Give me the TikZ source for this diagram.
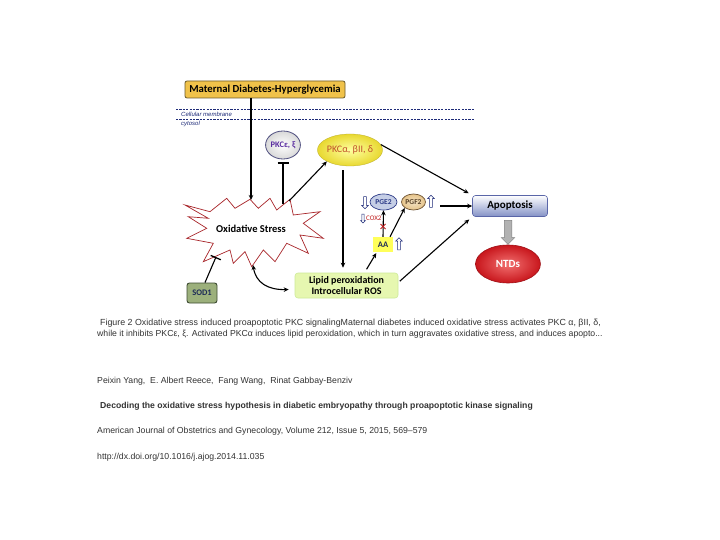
\documentclass[tikz,border=0pt]{standalone}
\usepackage{fontspec}
\setmainfont{Liberation Sans}
\newfontfamily\calfont{Carlito}
\usetikzlibrary{arrows.meta,shapes.geometric,shapes.arrows,shadings}
\definecolor{navy}{HTML}{1E2B78}
\definecolor{mdhfill}{HTML}{F0C24A}
\definecolor{mdhdraw}{HTML}{6B5A2A}
\definecolor{pkcetxt}{HTML}{5A2DA0}
\definecolor{pkcedraw}{HTML}{505080}
\definecolor{pkcatxt}{HTML}{C0502A}
\definecolor{pkcain}{HTML}{FFFFA0}
\definecolor{pkcaout}{HTML}{E8D830}
\definecolor{sodfill}{HTML}{9CB07C}
\definecolor{soddraw}{HTML}{3D4B32}
\definecolor{sodtxt}{HTML}{1E2B58}
\definecolor{lipidfill}{HTML}{E6F7B0}
\definecolor{lipiddraw}{HTML}{CDEB98}
\definecolor{aafill}{HTML}{FFFF5A}
\definecolor{pgefill}{HTML}{C5CEE6}
\definecolor{pgedraw}{HTML}{2E3C88}
\definecolor{pgffill}{HTML}{E6C48A}
\definecolor{pgfdraw}{HTML}{6E5232}
\definecolor{apopbot}{HTML}{8391C6}
\definecolor{apopdraw}{HTML}{5A66A8}
\definecolor{ntdin}{HTML}{F27070}
\definecolor{ntdout}{HTML}{C8161C}
\definecolor{ntddraw}{HTML}{A01218}
\definecolor{burstc}{HTML}{A8252A}
\definecolor{coxred}{HTML}{C02020}
\definecolor{captext}{HTML}{333333}
\begin{document}
\begin{tikzpicture}[x=1pt,y=-1pt,
  conn/.style={-{Stealth[length=5pt,width=4.5pt]}, line width=1.1pt, black},
  dconn/.style={{Stealth[length=5pt,width=4.5pt]}-{Stealth[length=5pt,width=4.5pt]}, line width=1.1pt, black},
  inh/.style={-{Bar[width=11pt,line width=1.3pt]}, line width=1.1pt, black},
  membrane/.style={navy, dashed, dash pattern=on 2.2pt off 1.2pt, line width=0.9pt},
  memtxt/.style={anchor=west, inner sep=0pt, text=navy, font=\fontsize{6}{7}\selectfont\itshape},
  mdh/.style={draw=mdhdraw, line width=0.8pt, fill=mdhfill, rounded corners=2pt, minimum width=160pt, minimum height=17pt, inner sep=0pt, font=\calfont\bfseries\fontsize{10.7}{12}\selectfont},
  pkce/.style={ellipse, draw=pkcedraw, line width=0.8pt, inner color=white, outer color=black!15, minimum width=32pt, minimum height=28pt, inner sep=0pt, text=pkcetxt, font=\calfont\bfseries\fontsize{8.5}{9}\selectfont},
  pkca/.style={ellipse, draw=pkcaout!80!black, line width=0.3pt, inner color=pkcain, outer color=pkcaout, minimum width=62pt, minimum height=32pt, inner sep=0pt, text=pkcatxt, font=\calfont\fontsize{10}{11}\selectfont},
  burst/.style={draw=burstc, line width=0.7pt, fill=white},
  ostxt/.style={inner sep=0pt, font=\calfont\bfseries\fontsize{10.5}{12}\selectfont},
  sod/.style={draw=soddraw, line width=0.9pt, fill=sodfill, rounded corners=2.5pt, minimum width=30pt, minimum height=20pt, inner sep=0pt, text=sodtxt, font=\calfont\bfseries\fontsize{8.5}{9}\selectfont},
  lipid/.style={draw=lipiddraw, line width=0.6pt, fill=lipidfill, rounded corners=3pt, minimum width=103pt, minimum height=25pt, inner sep=0pt, align=center, font=\calfont\bfseries\fontsize{10}{11}\selectfont},
  aabox/.style={fill=aafill, minimum width=20pt, minimum height=15pt, inner sep=0pt, text=sodtxt, font=\calfont\bfseries\fontsize{8.5}{9}\selectfont},
  pge/.style={ellipse, draw=pgedraw, line width=0.7pt, fill=pgefill, minimum width=27pt, minimum height=16pt, inner sep=0pt, text=pgedraw, font=\calfont\bfseries\fontsize{7.5}{8}\selectfont},
  pgf/.style={ellipse, draw=pgfdraw, line width=0.7pt, inner color=pgffill!50!white, outer color=pgffill, minimum width=24pt, minimum height=16pt, inner sep=0pt, text=pgfdraw!80!black, font=\calfont\bfseries\fontsize{7.5}{8}\selectfont},
  outarr/.style={single arrow, draw=navy, line width=0.5pt, fill=white, minimum height=12pt, inner sep=1.2pt, single arrow head extend=1.8pt},
  smallarr/.style={single arrow, draw=navy, line width=0.5pt, fill=white, minimum height=9pt, inner sep=0.9pt, single arrow head extend=1.4pt},
  coxtxt/.style={anchor=west, inner sep=0pt, text=coxred, font=\calfont\fontsize{7}{8}\selectfont},
  apop/.style={draw=apopdraw, line width=0.6pt, top color=white, bottom color=apopbot, rounded corners=3pt, minimum width=75pt, minimum height=21pt, inner sep=0pt, font=\calfont\bfseries\fontsize{11}{12}\selectfont},
  blockarr/.style={single arrow, draw=black!50, line width=0.5pt, fill=black!30, minimum height=24pt, inner sep=3.5pt, single arrow head extend=3pt},
  ntd/.style={ellipse, draw=ntddraw, line width=0.6pt, inner color=ntdin, outer color=ntdout, minimum width=65pt, minimum height=38pt, inner sep=0pt, text=white, font=\calfont\bfseries\fontsize{11}{12}\selectfont},
  captxt/.style={anchor=west, inner sep=0pt, text=captext, font=\fontsize{8.7}{10}\selectfont}
]
\useasboundingbox (0,0) rectangle (720,540);
\fill[white] (0,0) rectangle (720,540);

% top box and membrane
\node[mdh] (mdh) at (265,89.5) {Maternal Diabetes-Hyperglycemia};
\draw[membrane] (176,109) -- (475,109);
\draw[membrane] (176,119) -- (475,119);
\node[memtxt] (cm) at (181,114) {Cellular membrane};
\node[memtxt] (cy) at (181,124) {cytosol};

% oxidative stress burst
\draw[burst] (185,205) -- (210,211.7) -- (226.7,198.3) -- (235,208.3) -- (250,199.3) -- (258.3,208.3) -- (270,198.3) -- (276.7,210) -- (290,199.3) -- (293.3,215) -- (320,211.7) -- (303.3,223.3) -- (323.3,238.3) -- (300,235) -- (308.3,253.3) -- (286.7,243.3) -- (275,261.7) -- (263.3,250) -- (251.7,266.7) -- (245,251.7) -- (233.3,263.3) -- (230,250) -- (203.3,261.7) -- (213.3,243.3) -- (186.7,238.3) -- (206.7,228.3) -- (188.3,216.7) -- (208.3,218.3) -- cycle;
\node[ostxt] (os) at (251,229) {Oxidative Stress};
\coordinate (osT) at (251,200);
\coordinate (osPe) at (283,204);
\coordinate (osPa) at (289,201);
\coordinate (osS) at (216,257);
\coordinate (osB) at (253,265);

% nodes
\node[pkce] (pkce) at (283,145) {PKCε, ξ};
\node[pkca] (pkca) at (350,150) {PKCα, βII, δ};
\node[sod] (sod) at (202,293) {SOD1};
\node[lipid] (lipid) at (346.5,285.5) {Lipid peroxidation\\Introcellular ROS};
\node[aabox] (aa) at (383,244.5) {AA};
\node[outarr, shape border rotate=90] (aaup) at (399,244.5) {};
\node[pge] (pge2) at (383.5,202) {PGE2};
\node[pgf] (pgf2) at (413.5,202) {PGF2};
\node[outarr, shape border rotate=270] (pgedn) at (365,202) {};
\node[outarr, shape border rotate=90] (pgfup) at (431,202) {};
\node[smallarr, shape border rotate=270] (coxdn) at (363,218) {};
\node[coxtxt] (cox) at (366,218) {COX2};
\node[apop] (apop) at (510,206) {Apoptosis};
\node[blockarr, shape border rotate=270] (ba) at (508,230.5) {};
\node[ntd] (ntd) at (508,264) {NTDs};
\coordinate (pgfR) at (440,206);

% connectors
\draw[conn] (mdh.south -| osT) -- (osT);
\draw[inh, shorten >=3pt] (osPe) -- (pkce.south);
\draw[conn] (osPa) -- (pkca.south west);
\draw[conn, shorten >=4pt] (pkca.10) -- (apop.north west);
\draw[conn, shorten <=4pt, shorten >=5pt] ([xshift=-7pt]pkca.south) -- ([xshift=-7pt]pkca.south |- lipid.north);
\draw[inh] ([xshift=3pt]sod.north) -- (osS);
\draw[dconn] (osB) .. controls (256,283) and (268,290) .. ([xshift=-6pt,yshift=-4pt]lipid.west);
\draw[conn, shorten <=4pt, shorten >=1pt] ([xshift=18pt]lipid.north) -- ([xshift=4pt]aa.south west);
\draw[conn, shorten <=2pt, shorten >=4pt] ([yshift=3pt]lipid.east) -- (apop.south west);
\draw[conn] (aa.north) -- (pge2.south);
\draw[conn] ([xshift=7pt]aa.north) -- (pgf2.south west);
\draw[coxred, line width=0.8pt] (380.5,224) -- (385.5,229) (385.5,224) -- (380.5,229);
\draw[conn] (pgfR) -- (pgfR -| apop.west);

% caption
\node[captxt, font=\fontsize{8.85}{10}\selectfont] (c1) at (100,323) {Figure 2 Oxidative stress induced proapoptotic PKC signalingMaternal diabetes induced oxidative stress activates PKC α, βII, δ,};
\node[captxt] (c2) at (97,334.5) {while it inhibits PKCε, ξ. Activated PKCα induces lipid peroxidation, which in turn aggravates oxidative stress, and induces apopto...};
\node[captxt] (c3) at (97,381) {Peixin Yang,\ \ E. Albert Reece,\ \ Fang Wang,\ \ Rinat Gabbay-Benziv};
\node[captxt, font=\fontsize{8.65}{10}\selectfont\bfseries] (c4) at (100,406) {Decoding the oxidative stress hypothesis in diabetic embryopathy through proapoptotic kinase signaling};
\node[captxt] (c5) at (97,431) {American Journal of Obstetrics and Gynecology, Volume 212, Issue 5, 2015, 569--579};
\node[captxt] (c6) at (97,457) {http://dx.doi.org/10.1016/j.ajog.2014.11.035};
\end{tikzpicture}
\end{document}
